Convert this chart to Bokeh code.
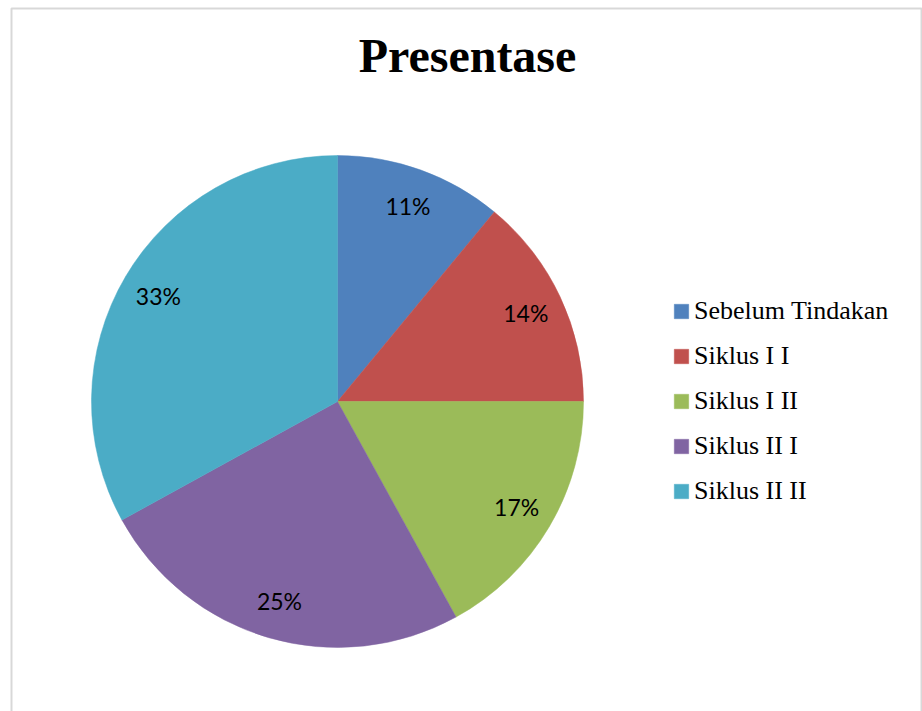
import numpy as np
from bokeh.plotting import figure
from bokeh.models import ColumnDataSource, Range1d, Legend, LegendItem, Label, BoxAnnotation
from bokeh.core.properties import value
from bokeh.embed import file_html
from bokeh.resources import INLINE

# ---- data ----
categories = ["Sebelum Tindakan", "Siklus I I", "Siklus I II", "Siklus II I", "Siklus II II"]
percentages = [11, 14, 17, 25, 33]
colors = ["#4F81BD", "#C0504D", "#9BBB59", "#8064A2", "#4BACC6"]
title_text = "Presentase"

W, H = 922, 711
cx, cy, R = 337, H - 401, 246

vals = np.array(percentages, dtype=float)
frac = vals / vals.sum()
cum = np.concatenate([[0], np.cumsum(frac)])
start = np.pi / 2 - cum[:-1] * 2 * np.pi
end = np.pi / 2 - cum[1:] * 2 * np.pi
mid = (start + end) / 2
lr = 0.846 * R

src = ColumnDataSource(dict(
    cat=categories, color=colors, start=start, end=end,
    lx=cx + lr * np.cos(mid), ly=cy + lr * np.sin(mid),
    lbl=[f"{v:g}%" for v in percentages],
))

p = figure(width=W, height=H, x_range=Range1d(0, W), y_range=Range1d(0, H),
           x_axis_type=None, y_axis_type=None, toolbar_location=None,
           output_backend="svg", min_border=0, outline_line_color=None)
p.grid.visible = False
p.background_fill_color = "white"
p.border_fill_color = "white"

r = p.wedge(x=cx, y=cy, radius=R, start_angle="start", end_angle="end",
            direction="clock", fill_color="color", line_color="color",
            line_width=0.5, source=src)

p.text(x="lx", y="ly", text="lbl", source=src, text_align="center",
       text_baseline="middle", text_font=value("Lato"),
       text_font_size="23px", text_color="black")

items = [LegendItem(label=c, renderers=[r], index=i) for i, c in enumerate(categories)]
legend = Legend(items=items, location=(672, 205), orientation="vertical",
                label_text_font="Liberation Serif", label_text_font_size="26px",
                label_text_color="black", label_height=26, label_standoff=4,
                glyph_width=18, glyph_height=18, spacing=15, padding=0, margin=0,
                border_line_color=None, background_fill_alpha=0)
p.add_layout(legend, "center")

p.add_layout(Label(x=467, y=H - 55, text=title_text, text_font="Liberation Serif",
                   text_font_style="bold", text_font_size="48px",
                   text_align="center", text_baseline="alphabetic",
                   text_color="black"))

p.add_layout(BoxAnnotation(left=11, right=921, top=H - 8, bottom=-20,
                           fill_alpha=0, line_color="#7f7f7f", line_width=2))

open("out.html", "w").write(file_html(p, INLINE))
